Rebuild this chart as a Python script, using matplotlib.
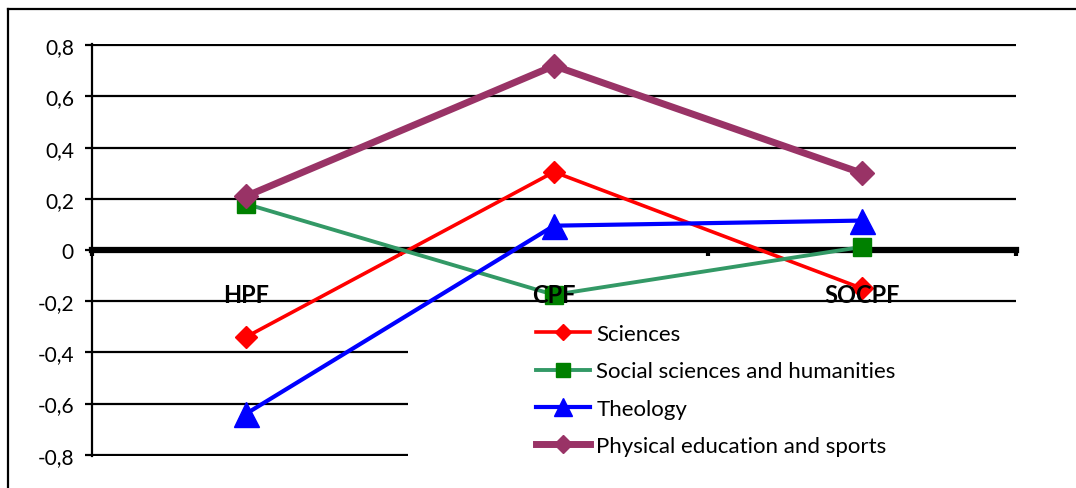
import matplotlib
matplotlib.use("Agg")
import matplotlib.pyplot as plt
from matplotlib.lines import Line2D
from matplotlib.patches import Rectangle

categories = ["HPF", "CPF", "SOCPF"]
series_names = ["Sciences", "Social sciences and humanities", "Theology",
                "Physical education and sports"]
sciences = [-0.34, 0.305, -0.15]
social = [0.18, -0.175, 0.012]
theology = [-0.64, 0.095, 0.115]
physical = [0.21, 0.72, 0.30]
yticks = [-0.8, -0.6, -0.4, -0.2, 0, 0.2, 0.4, 0.6, 0.8]
ytick_labels = ["-0,8", "-0,6", "-0,4", "-0,2", "0", "0,2", "0,4", "0,6", "0,8"]

plt.rcParams['font.family'] = ['Lato', 'DejaVu Sans']

W, H = 1076, 489
fig = plt.figure(figsize=(W / 100, H / 100), dpi=100)
ax = fig.add_axes([92 / W, (H - 457) / H, (1016 - 92) / W, (457 - 45) / H])

x = list(range(len(categories)))
ax.set_xlim(-0.5, len(categories) - 0.5)
ax.set_ylim(-0.805, 0.805)

# gridlines
for v in yticks:
    if v != 0:
        ax.axhline(v, color='black', lw=1.6, zorder=0.5)

# legend background box (covers gridlines)
ax.add_patch(Rectangle((0.342, -0.01), 0.66, 0.366, transform=ax.transAxes,
                       facecolor='white', edgecolor='none', zorder=0.8))

styles = [
    (sciences, dict(color='#FF0000', lw=2.6, marker='D', ms=11,
                    mfc='#FF0000', mec='#FF0000')),
    (social, dict(color='#339966', lw=2.8, marker='s', ms=13,
                  mfc='#008000', mec='#008000')),
    (theology, dict(color='#0000FF', lw=3.0, marker='^', ms=18,
                    mfc='#0000FF', mec='#0000FF')),
    (physical, dict(color='#993366', lw=5.0, marker='D', ms=12,
                    mfc='#993366', mec='#993366')),
]
handles = []
for (vals, st), name in zip(styles, series_names):
    h, = ax.plot(x, vals, label=name, zorder=3, **st)
    handles.append(h)

# spines
for s in ['top', 'right']:
    ax.spines[s].set_visible(False)
ax.spines['bottom'].set_position(('data', 0))
ax.spines['bottom'].set_linewidth(4.5)
ax.spines['left'].set_linewidth(1.6)

ax.set_xticks([-0.5, 0.5, 1.5, 2.5])
ax.set_xticklabels([])
ax.tick_params(axis='x', direction='out', length=4, width=3, color='black')
ax.set_yticks(yticks)
ax.set_yticklabels(ytick_labels)
ax.tick_params(axis='y', direction='out', length=5, width=1.6, pad=8,
               labelsize=15)

for xi, c in zip(x, categories):
    ax.text(xi, -0.205, c, ha='center', va='baseline', fontsize=17,
            fontweight='bold', zorder=5)

leg = ax.legend(handles=handles, loc='upper left',
                bbox_to_anchor=(0.481, 0.32), frameon=False, fontsize=16,
                handlelength=2.4, handletextpad=0.3, labelspacing=0.78,
                borderpad=0, borderaxespad=0, markerscale=0.75)

# outer border
fig.add_artist(Line2D([8 / W, 8 / W], [0, 1 - 10 / H], color='black', lw=1.6))
fig.add_artist(Line2D([8 / W, 1], [1 - 10 / H, 1 - 10 / H], color='black', lw=1.6))

fig.savefig("out.png", dpi=100)
